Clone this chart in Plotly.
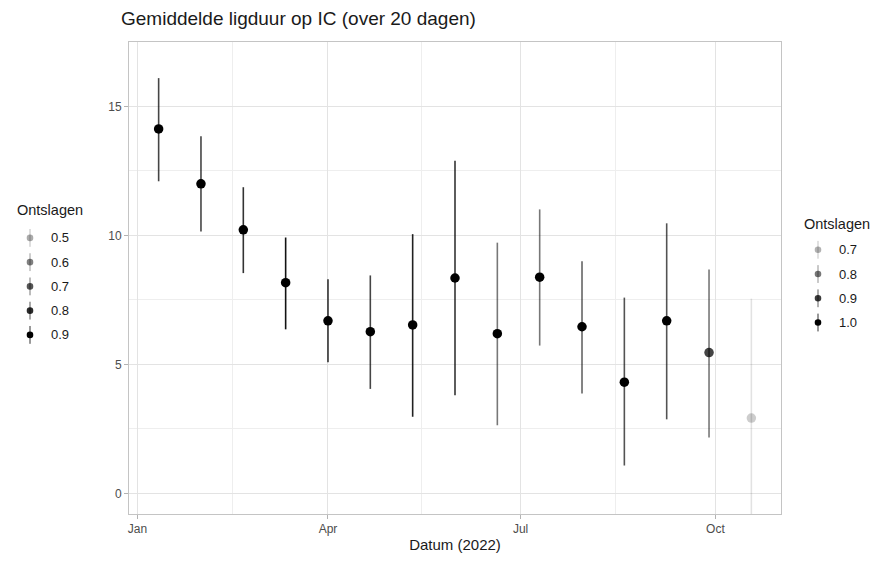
import plotly.graph_objects as go

# 20-daagse vensters, midden van elk venster
datums = ["2022-01-11", "2022-01-31", "2022-02-20", "2022-03-12", "2022-04-01",
          "2022-04-21", "2022-05-11", "2022-05-31", "2022-06-20", "2022-07-10",
          "2022-07-30", "2022-08-19", "2022-09-08", "2022-09-28", "2022-10-18"]
ligduur = [14.13, 12.0, 10.22, 8.17, 6.69, 6.27, 6.53, 8.35, 6.19, 8.38,
           6.46, 4.31, 6.69, 5.46, 2.92]
onder = [12.1, 10.15, 8.54, 6.36, 5.08, 4.05, 2.97, 3.8, 2.64, 5.73,
         3.87, 1.08, 2.87, 2.17, -0.8]
boven = [16.1, 13.85, 11.87, 9.92, 8.3, 8.45, 10.05, 12.9, 9.72, 11.01,
         9.0, 7.59, 10.47, 8.68, 7.55]
ontslagen_punt = [0.95, 0.95, 0.95, 0.95, 0.95, 0.95, 0.95, 0.95, 0.95, 0.95,
                  0.95, 0.95, 0.95, 0.74, 0.42]
ontslagen_lijn = [0.884, 0.884, 0.914, 0.97, 0.914, 0.884, 0.944, 0.914, 0.80, 0.80,
                  0.83, 0.86, 0.86, 0.80, 0.62]

legenda_punt = [0.5, 0.6, 0.7, 0.8, 0.9]
legenda_lijn = [0.7, 0.8, 0.9, 1.0]

FONT = "Liberation Sans, Arial, sans-serif"

# pagina heeft 8px marge; alle posities in figuur-pixels
OFF = 8
W, H = 881 - OFF, 563 - OFF
L, R, T, B = 129 - OFF, 781 - OFF, 42 - OFF, 519 - OFF


def alpha_punt(v):
    a = 0.33 + (v - 0.5) / 0.4 * 0.67
    return max(0.08, min(1.0, a))


def alpha_lijn(v):
    a = 0.3 + (v - 0.7) / 0.3 * 0.7
    return max(0.08, min(1.0, a))


def px(x):
    return (x - OFF - L) / (R - L)


def py(y):
    return (B - (y - OFF)) / (B - T)


fig = go.Figure()

for d, m, lo, hi, vp, vl in zip(datums, ligduur, onder, boven, ontslagen_punt, ontslagen_lijn):
    fig.add_trace(go.Scatter(
        x=[d], y=[m],
        mode='markers',
        marker=dict(size=9.5, color=f"rgba(0,0,0,{alpha_punt(vp):.3f})"),
        error_y=dict(type='data', symmetric=False, array=[hi - m], arrayminus=[m - lo],
                     color=f"rgba(0,0,0,{alpha_lijn(vl):.3f})", thickness=1.6, width=0),
        showlegend=False,
        hovertemplate="%{x|%d %b}: %{y:.2f}<extra></extra>",
    ))

grid = '#E3E3E3'
axis_common = dict(
    showgrid=True, gridcolor=grid, gridwidth=1,
    showline=True, mirror=True, linecolor='#C4C4C4', linewidth=1,
    ticks='outside', ticklen=4, tickcolor='#B3B3B3',
    tickfont=dict(family=FONT, size=12, color='#4D4D4D'),
    zeroline=False,
)

fig.update_xaxes(
    type='date', range=['2021-12-28', '2022-11-01'],
    dtick='M3', tick0='2022-01-01', tickformat='%b',
    minor=dict(dtick='M3', tick0='2022-02-15', showgrid=True, gridcolor='#EEEEEE', ticks=''),
    title=dict(text='Datum (2022)', font=dict(family=FONT, size=15, color='#1A1A1A'), standoff=4),
    **axis_common,
)
fig.update_yaxes(
    range=[-0.8, 17.5], dtick=5, tick0=0,
    minor=dict(dtick=2.5, showgrid=True, gridcolor='#EEEEEE', ticks=''),
    **axis_common,
)

shapes = []
annotations = []


def legenda(titel_x, titel_y, items, y_start, stap, kleur_fn, dot_x, label_x):
    annotations.append(dict(
        text='Ontslagen', xref='paper', yref='paper', x=px(titel_x), y=py(titel_y),
        xanchor='left', yanchor='middle', showarrow=False,
        font=dict(family=FONT, size=14.5, color='#1A1A1A')))
    for i, v in enumerate(items):
        yy = y_start + i * stap
        a = kleur_fn(v)
        shapes.append(dict(
            type='line', xref='paper', yref='paper', x0=px(dot_x), x1=px(dot_x),
            y0=py(yy - 9), y1=py(yy + 9),
            line=dict(color=f"rgba(0,0,0,{a * 0.8:.3f})", width=1)))
        shapes.append(dict(
            type='circle', xref='paper', yref='paper',
            xsizemode='pixel', ysizemode='pixel', xanchor=px(dot_x), yanchor=py(yy),
            x0=-3.3, x1=3.3, y0=-3.3, y1=3.3,
            fillcolor=f"rgba(0,0,0,{a:.3f})", line=dict(width=0)))
        annotations.append(dict(
            text=f"{v:.1f}", xref='paper', yref='paper', x=px(label_x), y=py(yy),
            xanchor='left', yanchor='middle', showarrow=False,
            font=dict(family=FONT, size=13, color='#1A1A1A')))


legenda(15, 212, legenda_punt, 240, 24.5, alpha_punt, 30, 49)
legenda(802, 226, legenda_lijn, 252, 24.5, alpha_lijn, 818, 837)

fig.update_layout(
    width=W, height=H,
    margin=dict(l=L, r=W - R, t=T, b=H - B),
    paper_bgcolor='white', plot_bgcolor='white',
    title=dict(text='Gemiddelde ligduur op IC (over 20 dagen)',
               x=(121 - OFF) / W, xref='container', xanchor='left',
               y=1 - (18 - OFF) / H, yref='container', yanchor='middle',
               font=dict(family=FONT, size=19, color='#1A1A1A')),
    shapes=shapes,
    annotations=annotations,
    showlegend=False,
)

fig.write_html("out.html")
